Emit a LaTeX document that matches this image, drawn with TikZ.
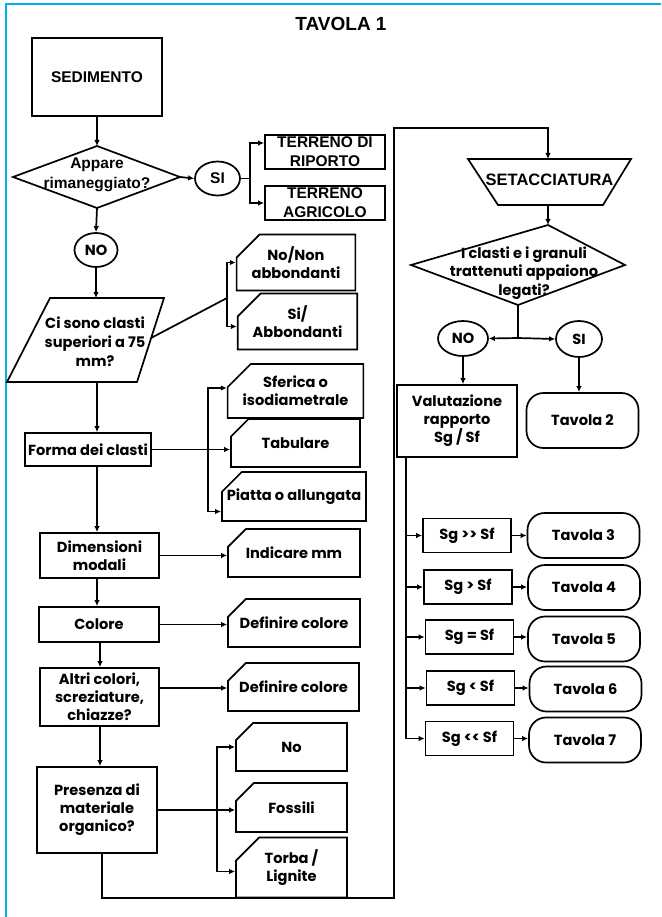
\documentclass[tikz,border=0pt]{standalone}
\usepackage{fontspec}
\setmainfont{Liberation Sans}
\newfontfamily\pop{Poppins}
\usepackage{xcolor}
\usetikzlibrary{arrows.meta,positioning,shapes.geometric,shapes.misc,calc}
\definecolor{frameblue}{RGB}{0,176,240}

\begin{document}
\begin{tikzpicture}[x=1pt,y=-1pt,
  box/.style={draw=black,line width=1.7pt,fill=white,align=center,inner sep=2pt,
              font=\pop\bfseries\fontsize{14.6}{18}\selectfont},
  capbox/.style={box,font=\bfseries\fontsize{15.5}{19}\selectfont},
  card/.style={box,chamfered rectangle,chamfered rectangle corners=north west,
               chamfered rectangle xsep=13pt,chamfered rectangle ysep=10pt},
  oval/.style={box,ellipse,inner sep=0pt},
  tav/.style={box,rounded corners=17pt,minimum width=112pt,minimum height=45pt},
  sgbox/.style={box,minimum width=88pt,minimum height=34pt},
  arr/.style={-{Latex[length=6pt,width=5.5pt]},line width=1.7pt,draw=black},
  link/.style={line width=1.7pt,draw=black}
]
\useasboundingbox (0,0) rectangle (661,917);
% frame
\draw[frameblue,line width=2.5pt] (661,4) -- (6,4) -- (6,917);
\node[font=\bfseries\fontsize{19}{22}\selectfont] (title) at (341,23.5) {TAVOLA 1};

% left column
\node[capbox,minimum width=130pt,minimum height=78pt] (sed) at (97,77) {SEDIMENTO};
\coordinate (apL) at (13,177);
\coordinate (apT) at (97,146);
\coordinate (apR) at (180,177);
\coordinate (apB) at (97,208);
\draw[link,fill=white] (apL) -- (apT) -- (apR) -- (apB) -- cycle;
\node[align=center,font=\bfseries\fontsize{15.5}{20}\selectfont] (app) at (97,175) {Appare\\rimaneggiato?};

\node[oval,font=\bfseries\fontsize{15.5}{19}\selectfont,minimum width=45pt,minimum height=34pt] (si1) at (217.5,178.5) {SI};
\node[capbox,minimum width=120pt,minimum height=34pt,inner sep=0pt] (rip) at (325,152) {TERRENO DI\\RIPORTO};
\node[capbox,minimum width=120pt,minimum height=34pt,inner sep=0pt] (agr) at (325,203) {TERRENO\\AGRICOLO};

\node[oval,minimum width=43pt,minimum height=34pt] (no1) at (96,250) {NO};

\coordinate (paA) at (50,298);
\coordinate (paB) at (164,298);
\coordinate (paC) at (137,382);
\coordinate (paD) at (7,382);
\coordinate (paR) at (151,338);
\draw[link,fill=white] (paA) -- (paB) -- (paC) -- (paD) -- cycle;
\node[align=center,font=\pop\bfseries\fontsize{14.6}{19}\selectfont] (clasti) at (95,342) {Ci sono clasti\\superiori a 75\\mm?};

\node[card,minimum width=102pt,minimum height=49pt] (nonab) at (296,262.5) {No/Non\\abbondanti};
\node[card,minimum width=101pt,minimum height=49pt] (siab) at (297.5,321.5) {Si/\\Abbondanti};

\node[box,minimum width=126pt,minimum height=33pt] (forma) at (88,449.5) {Forma dei clasti};
\node[card,minimum width=129pt,minimum height=48pt] (sfer) at (295.5,391) {Sferica o\\isodiametrale};
\node[card,minimum width=129pt,minimum height=48pt] (tab) at (295.5,443) {Tabulare};
\node[card,minimum width=132pt,minimum height=49pt,inner xsep=-5pt] (piat) at (294,496.5) {Piatta o allungata};

\node[box,minimum width=119pt,minimum height=45pt] (dim) at (99.5,555.5) {Dimensioni\\modali};
\node[card,minimum width=132pt,minimum height=48pt] (ind) at (294,553) {Indicare mm};
\node[box,minimum width=120pt,minimum height=35pt] (col) at (99,624.5) {Colore};
\node[card,minimum width=132pt,minimum height=48pt] (defA) at (294,623) {Definire colore};
\node[box,minimum width=119pt,minimum height=58pt] (altri) at (99.5,697) {Altri colori,\\screziature,\\chiazze?};
\node[card,minimum width=131pt,minimum height=48pt] (defB) at (293.5,687) {Definire colore};

\node[box,minimum width=120pt,minimum height=86pt] (pres) at (97,810) {Presenza di\\materiale\\organico?};
\node[card,minimum width=111pt,minimum height=48pt] (orgno) at (291.5,747) {No};
\node[card,minimum width=111pt,minimum height=49pt] (foss) at (291.5,807.5) {Fossili};
\node[card,minimum width=111pt,minimum height=49pt] (torb) at (291.5,867.5) {Torba /\\Lignite};

% right column
\coordinate (stA) at (468,159);
\coordinate (stB) at (631,159);
\coordinate (stC) at (603,205);
\coordinate (stD) at (498,205);
\draw[link,fill=white] (stA) -- (stB) -- (stC) -- (stD) -- cycle;
\node[font=\bfseries\fontsize{16.5}{19}\selectfont] (setac) at (549.5,180) {SETACCIATURA};
\coordinate (stT) at (548,159);
\coordinate (stS) at (548,205);
\coordinate (rdL) at (411,265);
\coordinate (rdT) at (548,225);
\coordinate (rdR) at (625,265);
\coordinate (rdB) at (518,305);
\draw[link,fill=white] (rdL) -- (rdT) -- (rdR) -- (rdB) -- cycle;
\node[align=center,font=\pop\bfseries\fontsize{14.6}{18.5}\selectfont] (legati) at (524,273) {I clasti e i granuli\\trattenuti appaiono\\legati?};

\node[oval,minimum width=50pt,minimum height=35pt] (no2) at (463,338.5) {NO};
\node[oval,minimum width=46pt,minimum height=36pt] (si2) at (579,339) {SI};
\node[box,minimum width=120pt,minimum height=72pt] (val) at (457,421) {Valutazione\\rapporto\\Sg / Sf};
\node[tav,minimum height=55pt] (tav2) at (582.5,420.5) {Tavola 2};

\node[sgbox] (sgA) at (467,535.5) {Sg >> Sf};
\node[sgbox] (sgB) at (468,587) {Sg > Sf};
\node[sgbox] (sgC) at (469.5,637) {Sg = Sf};
\node[sgbox] (sgD) at (470.5,688) {Sg < Sf};
\node[sgbox] (sgE) at (469.5,738.5) {Sg << Sf};
\node[tav] (tavA) at (583.5,535.5) {Tavola 3};
\node[tav] (tavB) at (584,587.5) {Tavola 4};
\node[tav] (tavC) at (584,639) {Tavola 5};
\node[tav] (tavD) at (585.5,689) {Tavola 6};
\node[tav] (tavE) at (585,740) {Tavola 7};

% connectors, left
\coordinate (colx) at (97,0);
\coordinate (colz) at (100,0);
\draw[arr] (sed.south) -- (apT);
\draw[arr] (apR) -- (si1.west);
\draw[link] (si1.east) -- (250,178.5) coordinate (brA);
\draw[arr] (brA) |- ($(rip.west)+(0,-9)$);
\draw[arr] (brA) |- (agr.west);
\draw[arr] (apB) -- (no1.north);
\draw[arr] (no1.south) -- (no1.south |- paA);
\draw[link] (paR) -- (227,298) coordinate (brB);
\draw[arr] (brB) |- (nonab.west);
\draw[arr] (brB) |- ($(siab.west)+(0,5)$);
\draw[arr] (colx |- paC) -- (colx |- forma.north);
\draw[arr] (forma.east) -- (tab.west |- forma.east);
\coordinate (brC) at (208,449.5);
\draw[arr] (brC) |- ($(sfer.west)+(0,-3)$);
\draw[arr] (brC) |- ($(piat.west)+(0,15)$);
\draw[arr] (colx |- forma.south) -- (colx |- dim.north);
\draw[arr] (dim.east) -- (ind.west |- dim.east);
\draw[arr] (colx |- dim.south) -- (colx |- col.north);
\draw[arr] (col.east) -- (defA.west |- col.east);
\draw[arr] (colz |- col.south) -- (colz |- altri.north);
\draw[arr] ($(altri.east)+(0,-9)$) -- (defB.west |- 0,688);
\draw[arr] (colz |- altri.south) -- (colz |- pres.north);
\draw[arr] (pres.east) -- (foss.west |- pres.east);
\coordinate (brD) at (217,810);
\draw[arr] (brD) |- (orgno.west);
\draw[arr] (brD) |- ($(torb.west)+(0,4)$);

% return to the sieve
\coordinate (retA) at (102,898);
\coordinate (retB) at (394,128);
\draw[arr] (pres.south -| retA) -- (retA) -| (retB) -| (stT);

% connectors, right
\draw[arr] (stS) -- (rdT);
\draw[link] (rdB) -- (518,338) coordinate (brE);
\draw[arr] (brE) -- (no2.east);
\draw[arr] (brE) -- (si2.west);
\draw[arr] (no2.south) -- (no2.south |- val.north);
\draw[arr] (si2.south) -- (si2.south |- tav2.north);
\coordinate (brF) at (406,0);
\draw[link] (brF |- val.south) -- (brF |- sgE.west);
\foreach \s/\t in {sgA/tavA,sgB/tavB,sgC/tavC,sgD/tavD,sgE/tavE}{
  \draw[arr] (brF |- \s.west) -- (\s.west);
  \draw[arr] (\s.east) -- (\t.west |- \s.east);
}
\end{tikzpicture}
\end{document}
